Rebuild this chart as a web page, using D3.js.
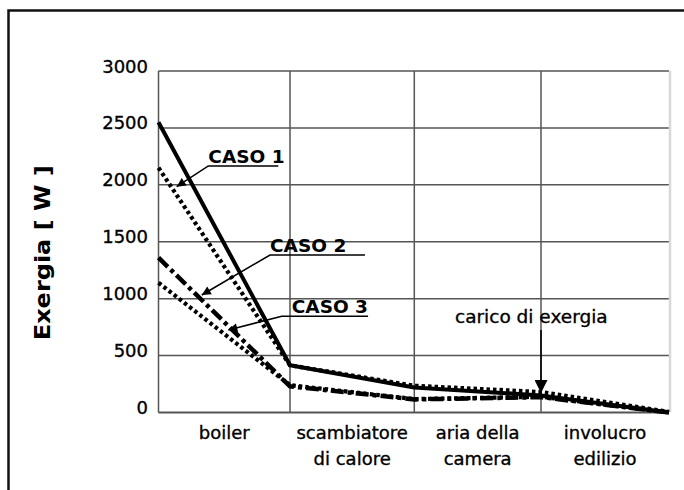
<!DOCTYPE html>
<html>
<head>
<meta charset="utf-8">
<script src="https://cdn.jsdelivr.net/npm/d3@7/dist/d3.min.js"></script>
<style>
  html, body { margin: 0; padding: 0; background: #fff; }
  svg { display: block; }
  text { font-family: "DejaVu Sans", Verdana, sans-serif; fill: #000; }
  .reg { stroke: #000; stroke-width: 0.35px; }
</style>
</head>
<body>
<svg id="chart" width="684" height="490"></svg>
<script>
// ---------- data ----------
const categoryLines = [["boiler"], ["scambiatore", "di calore"], ["aria della", "camera"], ["involucro", "edilizio"]];
const stageIndex = [0, 1, 2, 3, 4];          // boundaries between the stages
const yTicks = [0, 500, 1000, 1500, 2000, 2500, 3000];

const seriesSolid       = [2550, 415, 220, 150, 0];
const seriesDottedUpper = [2150, 415, 235, 180, 5];
const seriesDashDot     = [1360, 230, 115, 135, 0];
const seriesDottedLower = [1140, 240, 118, 138, 0];

// annotations in data units
const casoLabels    = ["CASO 1", "CASO 2", "CASO 3"];
const casoTip       = [[0.138, 1984], [0.329, 1032], [0.531, 725]];
const casoElbow     = [[0.379, 2166], [0.848, 1384], [0.937, 845]];
const casoEndStage  = [0.911, 1.603, 1.628];
const casoTextStage = [0.379, 0.848, 1.014];

const caricoLabel = "carico di exergia";
const caricoArrow = [[3, 725], [3, 171]];
const caricoText  = [2.321, 784];

// ---------- layout ----------
const svg = d3.select("#chart");
const x = d3.scaleLinear().domain(stageIndex).range([158.5, 290, 414.3, 541, 669]);
const y = d3.scaleLinear().domain([0, 3000]).range([412.5, 71]);

// outer frame
svg.append("rect").attr("x", 8.5).attr("y", 10.5).attr("width", 720).attr("height", 520)
  .attr("fill", "none").attr("stroke", "#111").attr("stroke-width", 2.5);

// grid
const grid = svg.append("g");
grid.selectAll("line.h").data(yTicks).join("line")
  .attr("x1", x(0)).attr("x2", x(4))
  .attr("y1", d => y(d)).attr("y2", d => y(d))
  .attr("stroke", "#555").attr("stroke-width", d => d === 0 ? 2 : 1.5);
grid.selectAll("line.v").data(stageIndex.slice(0, 4)).join("line")
  .attr("x1", d => x(d)).attr("x2", d => x(d))
  .attr("y1", y(3000)).attr("y2", y(0))
  .attr("stroke", "#555").attr("stroke-width", 1.5);
grid.append("line")
  .attr("x1", x(4) + 1).attr("x2", x(4) + 1).attr("y1", y(3000)).attr("y2", y(0))
  .attr("stroke", "#d8d8d8").attr("stroke-width", 2.5);

// y tick labels
svg.append("g").selectAll("text").data(yTicks).join("text")
  .attr("class", "reg")
  .attr("x", 148).attr("y", d => y(d) + 1.5)
  .attr("text-anchor", "end").attr("font-size", 18).text(d => d);

// y axis title
svg.append("text")
  .attr("transform", `translate(50,${(y(0) + y(3000)) / 2 + 11}) rotate(-90)`)
  .attr("text-anchor", "middle").attr("font-size", 22).attr("font-weight", "bold")
  .attr("textLength", 175).attr("lengthAdjust", "spacingAndGlyphs")
  .text("Exergia [ W ]");

// x category labels (centred in each band)
const cats = svg.append("g").selectAll("text").data(categoryLines).join("text")
  .attr("class", "reg")
  .attr("text-anchor", "middle").attr("font-size", 18)
  .attr("transform", (d, i) => `translate(${(x(i) + x(i + 1)) / 2},438.5)`);
cats.selectAll("tspan").data(d => d).join("tspan")
  .attr("x", 0).attr("dy", (d, i) => i === 0 ? 0 : 26.5).text(d => d);

// series lines
const line = d3.line().x((d, i) => x(stageIndex[i])).y(d => y(d));
const lines = svg.append("g").attr("fill", "none").attr("stroke", "#000");
lines.append("path").datum(seriesDottedLower).attr("d", line)
  .attr("stroke-width", 4.2).attr("stroke-dasharray", "3.5,3");
lines.append("path").datum(seriesDashDot).attr("d", line)
  .attr("stroke-width", 4.5).attr("stroke-dasharray", "13,4,4,4");
lines.append("path").datum(seriesDottedUpper).attr("d", line)
  .attr("stroke-width", 4.2).attr("stroke-dasharray", "3.5,3");
lines.append("path").datum(seriesSolid).attr("d", line)
  .attr("stroke-width", 4).attr("stroke-linejoin", "round");

// arrow markers
const defs = svg.append("defs");
defs.append("marker").attr("id", "ahSmall").attr("viewBox", "0 0 10 10")
  .attr("refX", 10).attr("refY", 5).attr("markerUnits", "userSpaceOnUse")
  .attr("markerWidth", 11).attr("markerHeight", 9).attr("orient", "auto")
  .append("path").attr("d", "M0,0 L10,5 L0,10 Z").attr("fill", "#000");
defs.append("marker").attr("id", "ahBig").attr("viewBox", "0 0 10 10")
  .attr("refX", 10).attr("refY", 5).attr("markerUnits", "userSpaceOnUse")
  .attr("markerWidth", 15).attr("markerHeight", 13).attr("orient", "auto")
  .append("path").attr("d", "M0,0 L10,5 L0,10 Z").attr("fill", "#000");

// CASO annotations
const ann = svg.append("g");
casoLabels.forEach((lab, i) => {
  const tip = casoTip[i], el = casoElbow[i];
  ann.append("path")
    .attr("d", `M${x(casoEndStage[i])},${y(el[1])} L${x(el[0])},${y(el[1])} L${x(tip[0])},${y(tip[1])}`)
    .attr("fill", "none").attr("stroke", "#000").attr("stroke-width", 1.6)
    .attr("marker-end", "url(#ahSmall)");
  ann.append("text").attr("x", x(casoTextStage[i])).attr("y", y(el[1]) - 3)
    .attr("font-size", 18.5).attr("font-weight", "bold").text(lab);
});

// carico di exergia
ann.append("line")
  .attr("x1", x(caricoArrow[0][0])).attr("y1", y(caricoArrow[0][1]))
  .attr("x2", x(caricoArrow[1][0])).attr("y2", y(caricoArrow[1][1]))
  .attr("stroke", "#000").attr("stroke-width", 1.6).attr("marker-end", "url(#ahBig)");
ann.append("text").attr("class", "reg").attr("x", x(caricoText[0])).attr("y", y(caricoText[1]))
  .attr("font-size", 18.5).text(caricoLabel);
</script>
</body>
</html>
